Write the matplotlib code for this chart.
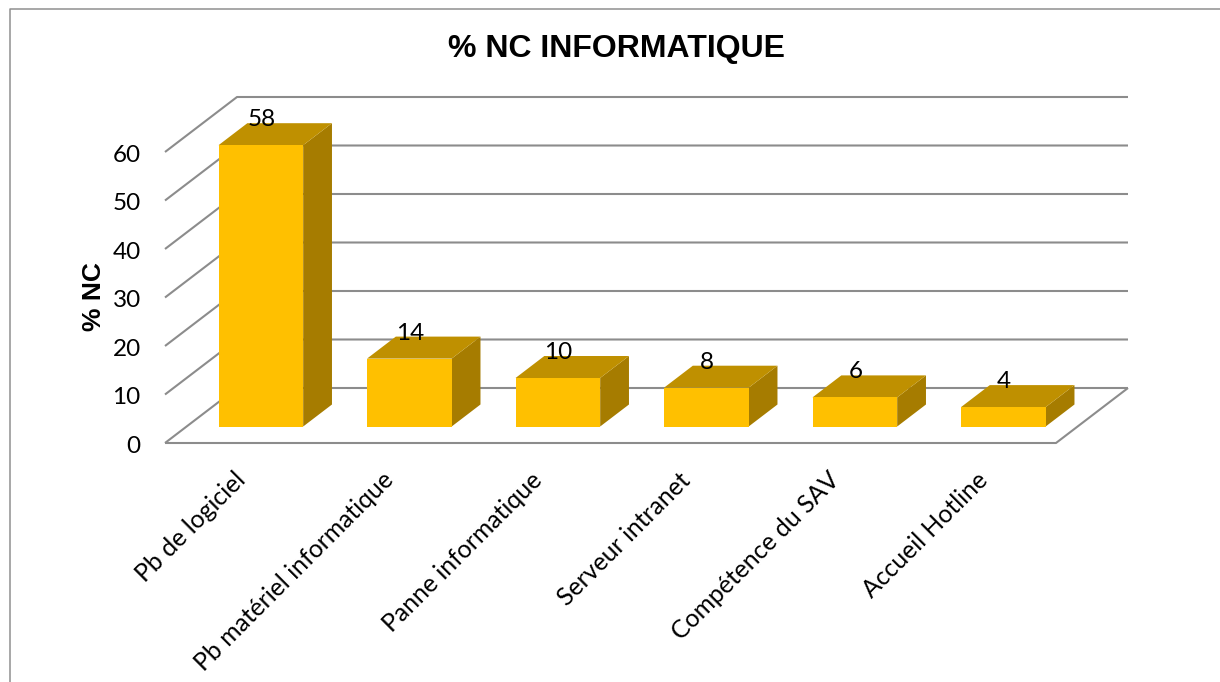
import matplotlib
matplotlib.use("Agg")
import matplotlib.pyplot as plt
from matplotlib.lines import Line2D
from matplotlib.patches import Polygon

categories = ["Pb de logiciel", "Pb matériel informatique", "Panne informatique",
              "Serveur intranet", "Compétence du SAV", "Accueil Hotline"]
values = [58, 14, 10, 8, 6, 4]
y_ticks = [0, 10, 20, 30, 40, 50, 60]
title = "% NC INFORMATIQUE"
y_title = "% NC"

W, H = 1220, 682
FRONT, TOP, SIDE = "#FFC000", "#BF9000", "#A67C00"
GRID = "#8C8C8C"
INK = "#000000"
TXT = "Lato"

fig = plt.figure(figsize=(W / 100, H / 100), dpi=100, facecolor="white")
# Axes = front plane of the 3D box, x in category units, y in chart values
ax = fig.add_axes([165 / W, (H - 443) / H, 891 / W, 291 / H])
ax.set_xlim(0, len(categories))
ax.set_ylim(0, 60)
ax.axis("off")

DX = 72 / (891 / len(categories))   # depth vector over the whole floor, in data units
DY = 55 / (291 / 60)
BAR_D0, BAR_D1 = 0.30, 0.70         # bar extent along the depth
BAR_W = 0.57


def proj(x, y, d):
    return (x + d * DX, y + d * DY)


def line(pts, z=1):
    xs, ys = zip(*pts)
    ax.plot(xs, ys, color=GRID, lw=1.5, clip_on=False, zorder=z, solid_capstyle="butt")


n = len(categories)
for t in y_ticks:
    line([proj(0, t, 0), proj(0, t, 1), proj(n, t, 1)])
    ax.annotate(str(t), xy=proj(0, t, 0), xytext=(-17.5, -2.5), textcoords="offset points",
                ha="right", va="center", fontsize=17.5, family=TXT, color=INK,
                annotation_clip=False)
line([proj(0, 0, 0), proj(n, 0, 0), proj(n, 0, 1)])

for i, (cat, v) in enumerate(zip(categories, values)):
    xl, xr = i + 0.5 - BAR_W / 2, i + 0.5 + BAR_W / 2
    front = [proj(xl, 0, BAR_D0), proj(xr, 0, BAR_D0), proj(xr, v, BAR_D0), proj(xl, v, BAR_D0)]
    side = [proj(xr, 0, BAR_D0), proj(xr, 0, BAR_D1), proj(xr, v, BAR_D1), proj(xr, v, BAR_D0)]
    top = [proj(xl, v, BAR_D0), proj(xr, v, BAR_D0), proj(xr, v, BAR_D1), proj(xl, v, BAR_D1)]
    ax.add_patch(Polygon(side, closed=True, fc=SIDE, ec="none", clip_on=False, zorder=3))
    ax.add_patch(Polygon(top, closed=True, fc=TOP, ec="none", clip_on=False, zorder=3))
    ax.add_patch(Polygon(front, closed=True, fc=FRONT, ec="none", clip_on=False, zorder=3))
    cx = proj(i + 0.5, v, BAR_D0)[0]
    ax.annotate(str(v), xy=(cx, proj(xl, v, BAR_D1)[1]), xytext=(0.5, 2.5), textcoords="offset points",
                ha="center", va="center", fontsize=17.5, family=TXT, color=INK, zorder=5,
                annotation_clip=False)
    ax.annotate(cat, xy=(cx, 0), xytext=(-14, -24), textcoords="offset points",
                ha="right", va="center", rotation=45, rotation_mode="anchor",
                fontsize=17.8, family=TXT, color=INK, annotation_clip=False)

fig.text(617 / W, 1 - 49 / H, title, ha="center", va="center", fontsize=23,
         fontweight="bold", family="Liberation Sans", color=INK)
fig.text(94 / W, 1 - 297 / H, y_title, ha="center", va="center", rotation=90, fontsize=19,
         fontweight="bold", family="Liberation Sans", color=INK)

# Chart frame, cropped at right and bottom
fig.add_artist(Line2D([10 / W, 10 / W, 1], [0, 1 - 8.5 / H, 1 - 8.5 / H],
                      transform=fig.transFigure, color="#8F8F8F", lw=1.1))

fig.savefig("out.png", dpi=100, facecolor="white")
